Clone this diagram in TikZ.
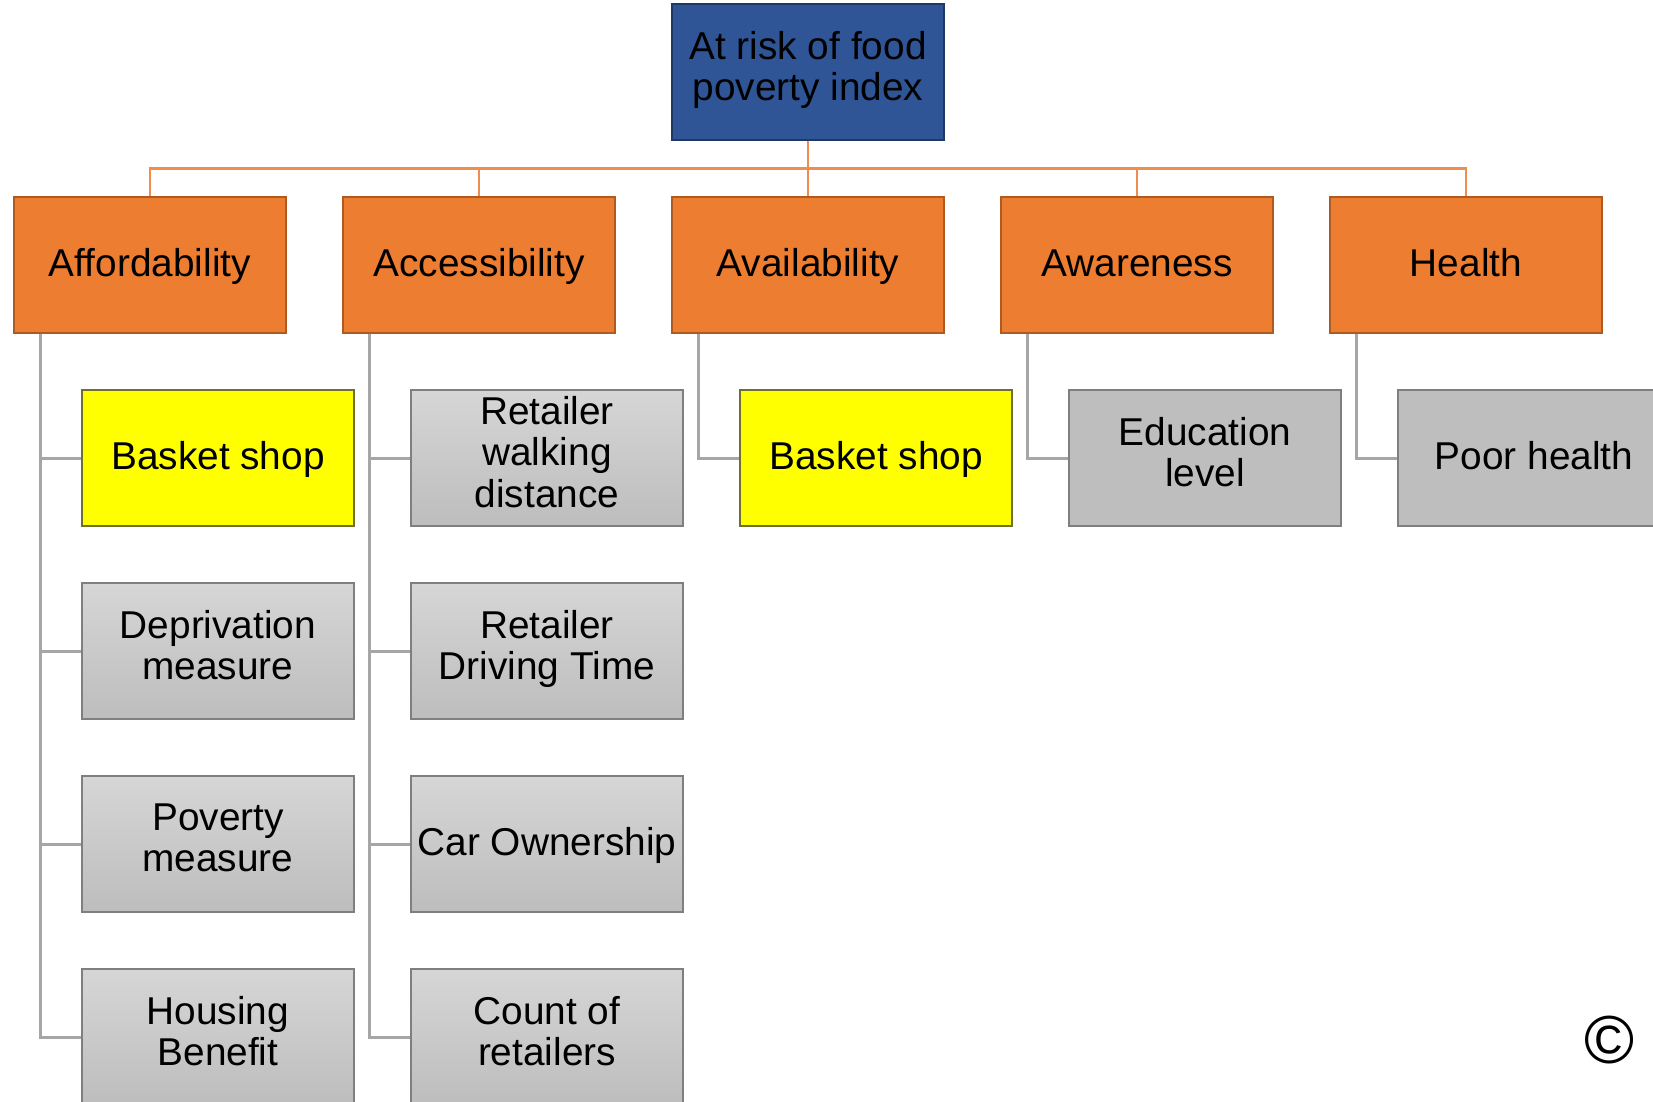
\documentclass[tikz,border=0pt]{standalone}
\usepackage{fontspec}
\setmainfont{Liberation Sans}
\usepackage{xcolor}
\usetikzlibrary{positioning}
\definecolor{rootblue}{HTML}{2F5597}
\definecolor{rootedge}{HTML}{1F3864}
\definecolor{catorange}{HTML}{ED7D31}
\definecolor{catedge}{HTML}{AE5A21}
\definecolor{busorange}{HTML}{F08C4C}
\definecolor{shopyellow}{HTML}{FFFF00}
\definecolor{shopedge}{HTML}{6F6F30}
\definecolor{leafgray}{HTML}{BEBEBE}
\definecolor{leaftop}{HTML}{D6D6D6}
\definecolor{leafbot}{HTML}{BDBDBD}
\definecolor{leafedge}{HTML}{7F7F7F}
\definecolor{linegray}{HTML}{A6A6A6}
\tikzset{block/.style={draw, rectangle, minimum width=136pt, minimum height=68pt,
		align=center, inner sep=1pt, line width=0.6pt,
		font=\fontsize{19.4pt}{20.8pt}\selectfont,
		execute at begin node=\rule{0pt}{18pt}, execute at end node=\strut},
	rootbox/.style={block, fill=rootblue, draw=rootedge},
	catbox/.style={block, fill=catorange, draw=catedge},
	leaf/.style={block, draw=leafedge, top color=leaftop, bottom color=leafbot},
	flatleaf/.style={block, fill=leafgray, draw=leafedge},
	shop/.style={block, fill=shopyellow, draw=shopedge},
	busline/.style={draw=busorange, line width=1.2pt},
	treeline/.style={draw=linegray, line width=1.5pt}}

\begin{document}
\begin{tikzpicture}[node distance=96.5pt]
		\useasboundingbox (0,0) rectangle (826.5pt,-551pt);
		\node [rootbox] (root) at (404pt,-36pt) {At risk of food\\poverty index};
		
		\node [catbox, below of=root] (avail) {Availability};
		\node [catbox, left of=avail, node distance=164.5pt] (access) {Accessibility};
		\node [catbox, left of=access, node distance=164.5pt] (afford) {Affordability};
		\node [catbox, right of=avail, node distance=164.5pt] (aware) {Awareness};
		\node [catbox, right of=aware, node distance=164.5pt] (health) {Health};
		
		% affordability
		\node [shop, below of=afford, xshift=34pt] (affshop) {Basket shop};
		\node [leaf, below of=affshop] (depriv) {Deprivation\\measure};
		\node [leaf, below of=depriv] (poverty) {Poverty\\measure};
		\node [leaf, below of=poverty] (housing) {Housing\\Benefit};
		
		% accessibility
		\node [leaf, below of=access, xshift=34pt] (walking) {Retailer\\walking\\distance};
		\node [leaf, below of=walking] (driving) {Retailer\\Driving Time};
		\node [leaf, below of=driving] (carown) {Car Ownership};
		\node [leaf, below of=carown] (retailers) {Count of\\retailers};
		
		\node [shop, below of=avail, xshift=34pt] (avshop) {Basket shop};
		\node [flatleaf, below of=aware, xshift=34pt] (educ) {Education\\level};
		\node [flatleaf, below of=health, xshift=34pt] (poorhealth) {Poor health};
		
		\node [font=\fontsize{34pt}{34pt}\selectfont] (copy) at (805pt,-520pt) {\textcopyright};
		
		\foreach \n in {afford,access,avail,aware,health}
		\draw [busline] (root.south) -- ++(0,-14pt) -| (\n.north);
		
		\foreach \n in {affshop,depriv,poverty,housing}
		\draw [treeline] ([xshift=13.75pt]afford.south west) |- (\n.west);
		\foreach \n in {walking,driving,carown,retailers}
		\draw [treeline] ([xshift=13.75pt]access.south west) |- (\n.west);
		\draw [treeline] ([xshift=13.75pt]avail.south west) |- (avshop.west);
		\draw [treeline] ([xshift=13.75pt]aware.south west) |- (educ.west);
		\draw [treeline] ([xshift=13.75pt]health.south west) |- (poorhealth.west);
	\end{tikzpicture}
\end{document}
